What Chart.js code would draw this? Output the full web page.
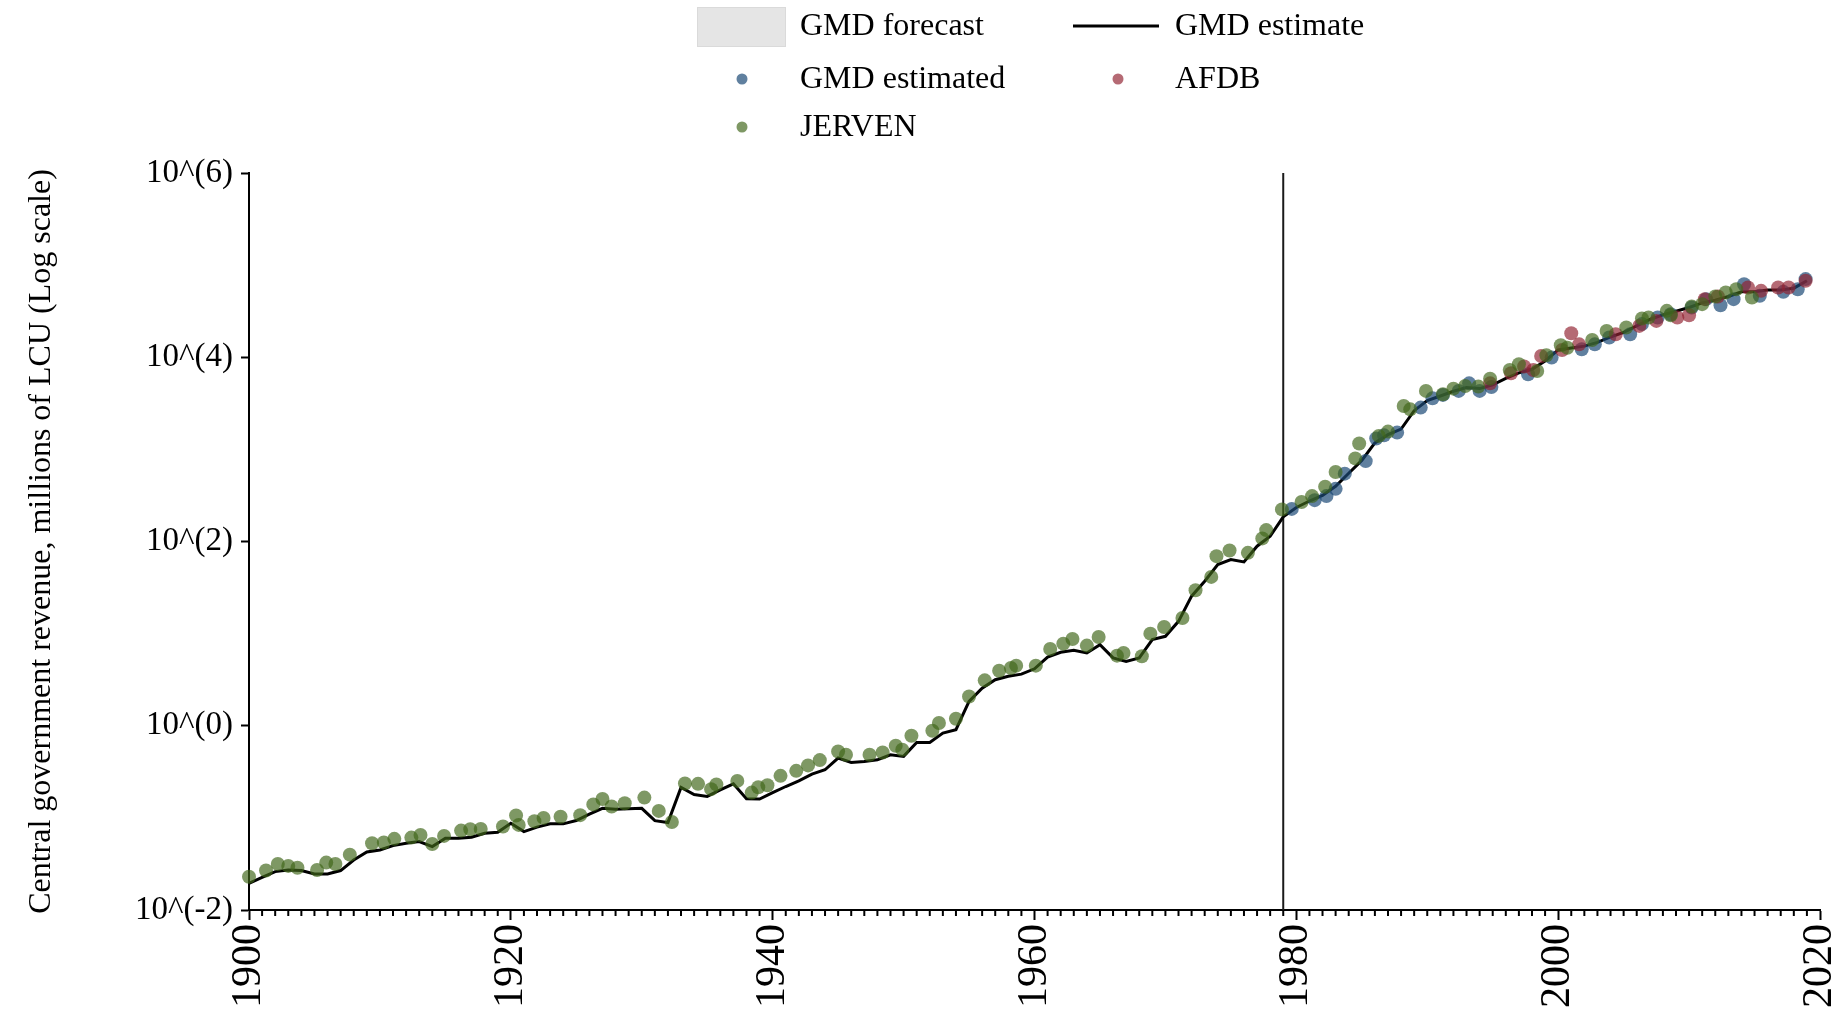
<!DOCTYPE html>
<html>
<head>
<meta charset="utf-8">
<script src="https://cdn.jsdelivr.net/npm/chart.js@4.4.1/dist/chart.umd.min.js"></script>
<style>
  html, body { margin: 0; padding: 0; background: #fff; }
</style>
</head>
<body>
<canvas id="revenue" width="1845" height="1014"></canvas>
<script>
// GMD estimate, one value per year from 1900 (millions of LCU)
var firstYear = 1900;
var estimateValues = [
    0.0195, 0.0226, 0.0261, 0.0272, 0.0268, 0.0246, 0.0246, 0.0268, 0.0349, 0.0427,
    0.0449, 0.0500, 0.0531, 0.0553, 0.0488, 0.0601, 0.0601, 0.0617, 0.0681, 0.0698,
    0.0875, 0.0710, 0.0793, 0.0861, 0.0861, 0.0935, 0.110, 0.127, 0.124, 0.126,
    0.127, 0.0933, 0.0891, 0.214, 0.179, 0.171, 0.201, 0.234, 0.161, 0.160,
    0.188, 0.219, 0.252, 0.299, 0.333, 0.446, 0.399, 0.409, 0.427, 0.484,
    0.465, 0.659, 0.659, 0.832, 0.906, 1.84, 2.56, 3.16, 3.44, 3.63,
    4.15, 5.57, 6.27, 6.59, 6.17, 7.59, 5.45, 5.00, 5.45, 8.61,
    9.35, 13.6, 25.5, 37.1, 56.2, 63.7, 60.1, 88.9, 114, 185,
    234, 275, 316, 398, 550, 759, 1175, 1445, 1660, 2630,
    3390, 3800, 4270, 4680, 4570, 5010, 5890, 6760, 7410, 9120,
    12000, 12600, 13200, 14500, 16600, 18600, 21900, 25700, 28800, 31600,
    34700, 38900, 41700, 45700, 51300, 51300, 53700, 53700, 56200, 67600
];
var estimateYears = [];
for (var i = 0; i < estimateValues.length; i++) estimateYears.push(firstYear + i);

// GMD estimated (blue dots)
var estimatedYears = [1979.65, 1981.4, 1982.3, 1983.0, 1983.7, 1985.3, 1986.1, 1986.7, 1987.7, 1989.5,
    1990.4, 1991.2, 1992.4, 1993.2, 1994.0, 1994.9, 1997.7, 1999.5, 2001.8, 2002.8,
    2003.9, 2005.5, 2006.4, 2007.6, 2008.6, 2010.2, 2011.3, 2012.4, 2013.4, 2014.2,
    2015.4, 2017.2, 2018.3, 2018.9];
var estimatedValues = [226, 281, 311, 373, 545, 746, 1310, 1420, 1520, 2840,
    3580, 3900, 4310, 5210, 4310, 4760, 6530, 9910, 12200, 13800,
    16400, 17800, 22900, 27000, 29300, 34700, 42700, 36700, 42700, 62100,
    46500, 51300, 54800, 70500];

// AFDB (red dots)
var afdbYears = [1994.8, 1996.4, 1997.4, 1998.1, 1998.7, 2000.3, 2001.0, 2001.6, 2004.4, 2006.2,
    2007.5, 2009.1, 2010.0, 2011.2, 2012.2, 2014.5, 2015.5, 2016.8, 2017.6, 2018.9];
var afdbValues = [5210, 6700, 7930, 7280, 10300, 12000, 18200, 13800, 17800, 21900,
    24800, 27000, 28600, 42700, 45600, 57100, 52600, 57100, 57100, 67600];

// JERVEN (green dots)
var jervenYears = [1900.0, 1901.3, 1902.2, 1903.0, 1903.7, 1905.2, 1905.9, 1906.6, 1907.7, 1909.4,
    1910.3, 1911.1, 1912.4, 1913.1, 1914.0, 1914.9, 1916.2, 1916.9, 1917.7, 1919.4,
    1920.4, 1920.6, 1921.8, 1922.5, 1923.8, 1925.3, 1926.3, 1927.0, 1927.7, 1928.7,
    1930.2, 1931.3, 1932.3, 1933.3, 1934.3, 1935.3, 1935.7, 1937.3, 1938.4, 1938.9,
    1939.6, 1940.6, 1941.8, 1942.7, 1943.6, 1945.0, 1945.6, 1947.4, 1948.4, 1949.4,
    1949.9, 1950.6, 1952.2, 1952.7, 1954.0, 1955.0, 1956.2, 1957.3, 1958.2, 1958.6,
    1960.1, 1961.2, 1962.2, 1962.9, 1964.0, 1964.9, 1966.3, 1966.8, 1968.2, 1968.85,
    1969.9, 1971.3, 1972.3, 1973.5, 1973.9, 1974.9, 1976.3, 1977.4, 1977.7, 1978.9,
    1980.4, 1981.2, 1982.2, 1983.0, 1984.5, 1984.8, 1986.3, 1987.0, 1988.2, 1988.7,
    1989.9, 1991.2, 1992.0, 1992.9, 1993.9, 1994.8, 1996.3, 1997.0, 1998.4, 1999.1,
    2000.2, 2000.7, 2002.6, 2003.7, 2005.2, 2006.4, 2006.9, 2008.3, 2008.6, 2010.2,
    2011.0, 2012.0, 2012.8, 2013.6, 2014.8];
var jervenValues = [0.0230, 0.0268, 0.0316, 0.0301, 0.0288, 0.0272, 0.0327, 0.0316, 0.0399, 0.0531,
    0.0540, 0.0592, 0.0611, 0.0653, 0.0521, 0.0637, 0.0728, 0.0753, 0.0759, 0.0805,
    0.106, 0.0839, 0.0920, 0.100, 0.103, 0.107, 0.140, 0.160, 0.133, 0.144,
    0.166, 0.119, 0.0902, 0.236, 0.234, 0.205, 0.231, 0.252, 0.188, 0.215,
    0.226, 0.286, 0.324, 0.371, 0.424, 0.526, 0.484, 0.484, 0.513, 0.607,
    0.548, 0.778, 0.883, 1.07, 1.19, 2.08, 3.11, 3.96, 4.24, 4.49,
    4.49, 6.81, 7.78, 8.75, 7.41, 9.20, 5.77, 6.17, 5.68, 10.0,
    11.8, 14.8, 29.6, 41.3, 69.3, 79.8, 75.3, 108, 133, 223,
    268, 311, 393, 568, 798, 1160, 1400, 1560, 2960, 2720,
    4310, 3960, 4560, 4880, 4800, 5860, 7280, 8390, 7100, 10500,
    13500, 12700, 15400, 19300, 21000, 26300, 27000, 31900, 28600, 35600,
    37700, 45600, 50500, 54800, 44600];

var xTickYears = [1900, 1920, 1940, 1960, 1980, 2000, 2020];
var yTickPowers = [-2, 0, 2, 4, 6];
var breakYear = 1979;

var serif = '"Liberation Serif", "Times New Roman", serif';
var blue = 'rgba(29, 74, 118, 0.7)';
var red = 'rgba(146, 35, 50, 0.68)';
var green = 'rgba(65, 103, 26, 0.68)';
var forecastGrey = '#e5e5e5';

function toPoints(xs, ys) {
    return xs.map(function(x, i) { return {x: x, y: ys[i]}; });
}

// vertical line at the last observed year + minor year ticks
var markersPlugin = {
    id: 'markers',
    beforeDatasetsDraw: function(chart) {
        var ctx = chart.ctx, xs = chart.scales.x, ys = chart.scales.y;
        var px = xs.getPixelForValue(breakYear);
        ctx.save();
        ctx.strokeStyle = '#1a1a1a';
        ctx.lineWidth = 2;
        ctx.beginPath();
        ctx.moveTo(px, ys.getPixelForValue(Math.pow(10, 6)));
        ctx.lineTo(px, chart.chartArea.bottom);
        ctx.stroke();
        ctx.restore();
    },
    afterDraw: function(chart) {
        var ctx = chart.ctx, xs = chart.scales.x;
        ctx.save();
        ctx.strokeStyle = '#000';
        ctx.lineWidth = 2;
        for (var yr = 1901; yr < 2020; yr++) {
            if (yr % 20 === 0) continue;
            var px = xs.getPixelForValue(yr);
            ctx.beginPath();
            ctx.moveTo(px, xs.top);
            ctx.lineTo(px, xs.top + 6);
            ctx.stroke();
        }
        ctx.restore();
    }
};

// two-column legend at the top, like the original
var legendPlugin = {
    id: 'gmdLegend',
    afterDraw: function(chart) {
        var ctx = chart.ctx;
        ctx.save();
        ctx.font = '32px ' + serif;
        ctx.textBaseline = 'middle';
        ctx.textAlign = 'left';

        ctx.fillStyle = forecastGrey;
        ctx.fillRect(697, 7, 89, 40);
        ctx.strokeStyle = '#dadada';
        ctx.lineWidth = 1;
        ctx.strokeRect(697.5, 7.5, 88, 39);

        ctx.strokeStyle = '#000';
        ctx.lineWidth = 3;
        ctx.beginPath();
        ctx.moveTo(1073, 26);
        ctx.lineTo(1159, 26);
        ctx.stroke();

        var dots = [[742, 79, blue], [1118, 79, red], [742, 127, green]];
        dots.forEach(function(d) {
            ctx.fillStyle = d[2];
            ctx.beginPath();
            ctx.arc(d[0], d[1], 5.5, 0, Math.PI * 2);
            ctx.fill();
        });

        ctx.fillStyle = '#000';
        ctx.fillText('GMD forecast', 800, 27);
        ctx.fillText('GMD estimate', 1175, 27);
        ctx.fillText('GMD estimated', 800, 80);
        ctx.fillText('AFDB', 1175, 80);
        ctx.fillText('JERVEN', 800, 128);
        ctx.restore();
    }
};

var ctx = document.getElementById('revenue').getContext('2d');
var chart = new Chart(ctx, {
    type: 'scatter',
    data: {
        datasets: [
            {
                label: 'JERVEN',
                data: toPoints(jervenYears, jervenValues),
                backgroundColor: green,
                borderWidth: 0,
                pointRadius: 7,
                clip: false,
                order: 1
            },
            {
                label: 'AFDB',
                data: toPoints(afdbYears, afdbValues),
                backgroundColor: red,
                borderWidth: 0,
                pointRadius: 7,
                clip: false,
                order: 2
            },
            {
                label: 'GMD estimated',
                data: toPoints(estimatedYears, estimatedValues),
                backgroundColor: blue,
                borderWidth: 0,
                pointRadius: 7,
                clip: false,
                order: 3
            },
            {
                label: 'GMD estimate',
                data: toPoints(estimateYears, estimateValues),
                showLine: true,
                borderColor: '#000',
                borderWidth: 3,
                pointRadius: 0,
                clip: false,
                order: 4
            }
        ]
    },
    options: {
        responsive: false,
        animation: false,
        devicePixelRatio: 1,
        layout: { padding: { top: 173, right: 25, bottom: 0, left: 0 } },
        plugins: {
            legend: { display: false },
            tooltip: { enabled: false }
        },
        scales: {
            x: {
                type: 'linear',
                min: 1900,
                max: 2020,
                afterBuildTicks: function(scale) {
                    scale.ticks = xTickYears.map(function(y) { return {value: y}; });
                },
                afterFit: function(scale) {
                    scale.height = 104;
                    scale.paddingLeft = 0;
                    scale.paddingRight = 0;
                },
                ticks: {
                    autoSkip: false,
                    minRotation: 90,
                    maxRotation: 90,
                    padding: 4,
                    color: '#000',
                    font: { family: serif, size: 42 },
                    callback: function(v) { return String(v); }
                },
                grid: {
                    drawOnChartArea: false,
                    drawTicks: true,
                    tickLength: 10,
                    tickWidth: 2,
                    tickColor: '#000'
                },
                border: { color: '#000', width: 2 }
            },
            y: {
                type: 'logarithmic',
                min: 0.01,
                max: 1000000,
                afterBuildTicks: function(scale) {
                    scale.ticks = yTickPowers.map(function(p) { return {value: Math.pow(10, p)}; });
                },
                afterFit: function(scale) { scale.width = 249; },
                ticks: {
                    padding: 8,
                    color: '#000',
                    font: { family: serif, size: 33 },
                    callback: function(v) { return '10^(' + Math.round(Math.log10(v)) + ')'; }
                },
                grid: {
                    drawOnChartArea: false,
                    drawTicks: true,
                    tickLength: 8,
                    tickWidth: 2,
                    tickColor: '#000'
                },
                border: { color: '#000', width: 2 },
                title: {
                    display: true,
                    text: 'Central government revenue, millions of LCU (Log scale)',
                    color: '#000',
                    font: { family: serif, size: 32 },
                    padding: { top: 22, bottom: 0 }
                }
            }
        }
    },
    plugins: [markersPlugin, legendPlugin]
});
</script>
</body>
</html>
